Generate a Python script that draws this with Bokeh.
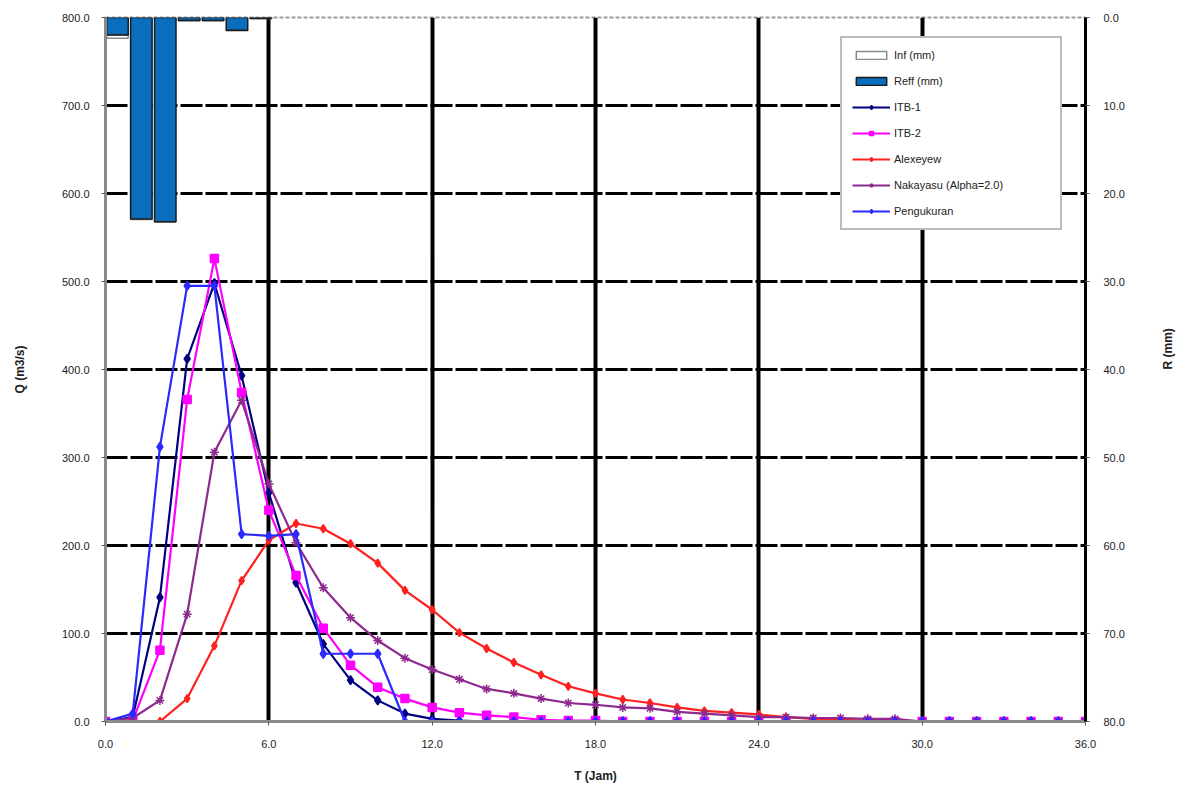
import math
from bokeh.plotting import figure
from bokeh.models import (Range1d, LinearAxis, FixedTicker, NumeralTickFormatter,
                          Legend, LegendItem)
from bokeh.embed import file_html
from bokeh.resources import INLINE

# ---- data ----
T = list(range(37))
ITB1 = [0, 5, 141, 412, 498, 393, 260, 158, 88, 47, 24, 9, 3, 1, 0, 0, 0, 0, 0,
        0, 0, 0, 0, 0, 0, 0, 0, 0, 0, 0, 0, 0, 0, 0, 0, 0, 0]
ITB2 = [0, 1, 81, 366, 526, 374, 240, 166, 106, 64, 39, 26, 16, 10, 7, 5, 2, 1, 1,
        0, 0, 0, 0, 0, 0, 0, 0, 0, 0, 0, 0, 0, 0, 0, 0, 0, 0]
ALEXEYEW = [0, 0, 0, 26, 86, 160, 206, 225, 219, 202, 180, 149, 127, 101, 83, 67,
            53, 40, 32, 25, 21, 16, 12, 10, 8, 5, 3, 2, 1, 1, 0, 0, 0, 0, 0, 0, 0]
NAKAYASU = [0, 4, 24, 122, 306, 365, 270, 203, 152, 118, 92, 72, 59, 48, 37, 32,
            26, 21, 19, 16, 15, 11, 9, 7, 5, 5, 4, 4, 3, 3, 0, 0, 0, 0, 0, 0, 0]
PENGUKURAN = [0, 9, 312, 495, 495, 213, 211, 213, 77, 77, 77, 0, 0, 0, 0, 0, 0, 0,
              0, 0, 0, 0, 0, 0, 0, 0, 0, 0, 0, 0, 0, 0, 0, 0, 0, 0, 0]

R_CAT = [1, 2, 3, 4, 5, 6, 7]          # rainfall column categories (hourly)
REFF = [2.0, 22.9, 23.2, 0.35, 0.35, 1.45, 0.1]
INF = [0.35, 0.05, 0.05, 0.02, 0.02, 0.05, 0.02]

X_TICKS = [0, 6, 12, 18, 24, 30, 36]
Q_TICKS = [0, 100, 200, 300, 400, 500, 600, 700, 800]
R_TICKS = [0, 10, 20, 30, 40, 50, 60, 70, 80]

FONT = "Liberation Sans"

p = figure(width=1185, height=790, x_range=Range1d(0, 36), y_range=Range1d(0, 800),
           output_backend="svg", toolbar_location=None,
           min_border_left=105, min_border_right=100, min_border_top=17, min_border_bottom=69)
p.extra_y_ranges = {"r": Range1d(80, 0)}
p.extra_x_ranges = {"cat": Range1d(0, 41)}
p.background_fill_color = "white"
p.border_fill_color = "white"
p.outline_line_color = "#9a9a9a"
p.outline_line_width = 2
p.outline_line_dash = "4 2"

# grids
p.xgrid.ticker = FixedTicker(ticks=X_TICKS[1:-1])
p.xgrid.grid_line_color = "black"
p.xgrid.grid_line_width = 4
p.ygrid.ticker = FixedTicker(ticks=Q_TICKS[1:-1])
p.ygrid.grid_line_color = "black"
p.ygrid.grid_line_width = 3
p.ygrid.grid_line_dash = "22 3"

# axes
fmt = NumeralTickFormatter(format="0.0")
xa = p.xaxis[0]
xa.ticker = FixedTicker(ticks=X_TICKS)
xa.formatter = fmt
xa.axis_label = "T (Jam)"
ya = p.yaxis[0]
ya.ticker = FixedTicker(ticks=Q_TICKS)
ya.formatter = fmt
ya.axis_label = "Q (m3/s)"
ra = LinearAxis(y_range_name="r", ticker=FixedTicker(ticks=R_TICKS), formatter=fmt,
                axis_label="R (mm)")
p.add_layout(ra, "right")

for ax, col in ((xa, "#8a8a8a"), (ya, "#8a8a8a"), (ra, "black")):
    ax.axis_line_color = col
    ax.axis_line_width = 3
    ax.major_tick_line_color = "#555555"
    ax.major_tick_out = 4
    ax.major_tick_in = 0
    ax.minor_tick_line_color = None
    ax.major_label_text_font = FONT
    ax.major_label_text_font_size = "11px"
    ax.major_label_text_color = "#222222"
    ax.axis_label_text_font = FONT
    ax.axis_label_text_font_size = "12px"
    ax.axis_label_text_font_style = "bold"
    ax.axis_label_text_color = "#222222"
xa.major_label_standoff = 14
xa.axis_label_standoff = 18
ya.major_label_standoff = 12
ya.axis_label_standoff = 32
ra.major_label_standoff = 14
ra.axis_label_standoff = 40
ra.axis_label_orientation = math.pi / 2

# rainfall bars (secondary axis, inverted)
bx = [c - 0.5 for c in R_CAT]
tot = [r + i for r, i in zip(REFF, INF)]
b_inf = p.vbar(x=bx, width=0.9, top=REFF, bottom=tot, x_range_name="cat", y_range_name="r",
               fill_color="white", line_color="#8a8a8a", line_width=1.5)
b_reff = p.vbar(x=bx, width=0.9, top=[0] * len(REFF), bottom=REFF, x_range_name="cat",
                y_range_name="r", fill_color="#0A6EBD", line_color="#1b1b1b", line_width=1.5)

series = [
    ("ITB-1", ITB1, "#000080", "diamond", 9),
    ("ITB-2", ITB2, "#FF00FF", "square", 8),
    ("Alexeyew", ALEXEYEW, "#FF2020", "diamond", 8),
    ("Nakayasu (Alpha=2.0)", NAKAYASU, "#8E2A8E", "asterisk", 9),
    ("Pengukuran", PENGUKURAN, "#2A2AFF", "diamond", 9),
]
items = [LegendItem(label="Inf (mm)", renderers=[b_inf]),
         LegendItem(label="Reff (mm)", renderers=[b_reff])]
for name, vals, col, mk, sz in series:
    lr = p.line(T, vals, line_color=col, line_width=2.2)
    sr = p.scatter(T, vals, marker=mk, size=sz, fill_color=col, line_color=col, line_width=1.5)
    items.append(LegendItem(label=name, renderers=[lr, sr]))

legend = Legend(items=items, location=(735, 491), orientation="vertical")
legend.label_text_font = FONT
legend.label_text_font_size = "11px"
legend.label_text_color = "#222222"
legend.glyph_width = 38
legend.glyph_height = 10
legend.label_height = 14
legend.spacing = 12
legend.padding = 10
legend.label_standoff = 4
legend.label_width = 156
legend.border_line_color = "#7a7a7a"
legend.border_line_width = 2
legend.background_fill_color = "white"
legend.background_fill_alpha = 1.0
p.add_layout(legend, "center")

open("out.html", "w").write(file_html(p, INLINE))
